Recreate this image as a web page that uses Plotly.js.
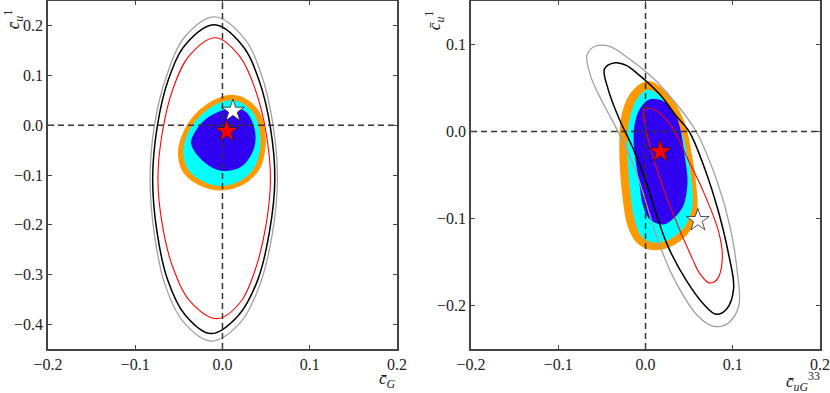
<!DOCTYPE html>
<html>
<head>
<meta charset="utf-8">
<script src="https://cdn.plot.ly/plotly-3.0.1.min.js"></script>
<style>
  html, body { margin: 0; padding: 0; background: #fff; }
  #chart { width: 830px; height: 393px; }
</style>
</head>
<body>
<div id="chart"></div>
<script>
// left panel (c_G vs c_u^1)
const leftGray = [[0.063,-0.108],[0.058,0.000],[0.045,0.100],[0.025,0.175],[-0.009,0.218],[-0.043,0.178],[-0.064,0.100],[-0.078,0.000],[-0.083,-0.108],[-0.078,-0.220],[-0.066,-0.320],[-0.045,-0.395],[-0.013,-0.434],[0.020,-0.398],[0.042,-0.325],[0.057,-0.220]];
const leftBlack = [[0.060,-0.108],[0.055,-0.005],[0.042,0.090],[0.023,0.160],[-0.009,0.202],[-0.042,0.163],[-0.062,0.092],[-0.075,-0.005],[-0.080,-0.108],[-0.075,-0.215],[-0.063,-0.310],[-0.043,-0.381],[-0.013,-0.419],[0.018,-0.383],[0.040,-0.313],[0.054,-0.213]];
const leftRed = [[0.055,-0.107],[0.050,-0.015],[0.038,0.070],[0.020,0.138],[-0.008,0.176],[-0.038,0.140],[-0.057,0.072],[-0.069,-0.015],[-0.074,-0.107],[-0.069,-0.200],[-0.057,-0.285],[-0.037,-0.354],[-0.006,-0.389],[0.021,-0.355],[0.038,-0.288],[0.050,-0.200]];
const leftOrange = [[-0.051,-0.055],[-0.045,-0.095],[-0.025,-0.122],[0.000,-0.131],[0.025,-0.118],[0.042,-0.090],[0.049,-0.050],[0.049,-0.015],[0.043,0.025],[0.030,0.050],[0.014,0.061],[-0.005,0.055],[-0.027,0.030],[-0.044,-0.010]];
const leftCyan = [[-0.045,-0.052],[-0.039,-0.090],[-0.021,-0.114],[0.000,-0.122],[0.021,-0.111],[0.036,-0.086],[0.043,-0.050],[0.043,-0.015],[0.037,0.020],[0.026,0.041],[0.013,0.050],[-0.004,0.045],[-0.023,0.023],[-0.038,-0.010]];
const leftBlue = [[-0.020,0.011],[-0.032,-0.015],[-0.036,-0.035],[-0.028,-0.062],[-0.012,-0.085],[0.002,-0.092],[0.020,-0.085],[0.030,-0.068],[0.037,-0.040],[0.037,-0.009],[0.028,0.025],[0.016,0.035],[0.000,0.030]];
const leftRedStar = [0.005, -0.012];
const leftWhiteStar = [0.012, 0.029];

// right panel (c_uG^33 vs c_u^1)
const rightGray = [[-0.067,0.088],[-0.058,0.098],[-0.042,0.098],[-0.018,0.083],[0.008,0.062],[0.031,0.037],[0.058,0.000],[0.083,-0.060],[0.097,-0.110],[0.105,-0.160],[0.107,-0.200],[0.095,-0.220],[0.079,-0.224],[0.060,-0.212],[0.033,-0.170],[0.016,-0.130],[0.003,-0.090],[-0.012,-0.043],[-0.033,0.003],[-0.049,0.033],[-0.063,0.064]];
const rightBlack = [[-0.047,0.072],[-0.035,0.079],[-0.022,0.076],[-0.011,0.068],[0.016,0.043],[0.035,0.018],[0.050,0.000],[0.068,-0.043],[0.083,-0.090],[0.095,-0.140],[0.101,-0.180],[0.093,-0.204],[0.081,-0.210],[0.068,-0.200],[0.046,-0.170],[0.024,-0.128],[-0.001,-0.053],[-0.014,-0.020],[-0.030,0.014],[-0.043,0.049]];
const rightRed = [[-0.002,0.026],[0.012,0.024],[0.031,0.004],[0.050,-0.035],[0.065,-0.066],[0.084,-0.116],[0.088,-0.147],[0.082,-0.170],[0.073,-0.174],[0.062,-0.163],[0.054,-0.147],[0.031,-0.093],[0.012,-0.040],[-0.001,0.010]];
const rightOrange = [[0.004,0.058],[0.027,0.042],[0.045,0.010],[0.052,-0.020],[0.058,-0.060],[0.059,-0.093],[0.048,-0.118],[0.025,-0.134],[0.005,-0.136],[-0.010,-0.128],[-0.020,-0.110],[-0.027,-0.070],[-0.030,-0.010],[-0.026,0.025],[-0.014,0.048]];
const rightCyan = [[0.004,0.048],[0.023,0.034],[0.039,0.005],[0.047,-0.022],[0.053,-0.060],[0.053,-0.090],[0.043,-0.112],[0.023,-0.126],[0.006,-0.127],[-0.005,-0.120],[-0.013,-0.100],[-0.018,-0.065],[-0.021,-0.010],[-0.017,0.020],[-0.008,0.040]];
const rightBlue = [[0.005,0.037],[0.020,0.035],[0.035,0.018],[0.046,-0.036],[0.048,-0.060],[0.043,-0.086],[0.032,-0.100],[0.020,-0.107],[0.005,-0.101],[-0.003,-0.085],[-0.007,-0.060],[-0.013,-0.020],[-0.013,0.005],[-0.007,0.025]];
const rightRedStar = [0.017, -0.023];
const rightWhiteStar = [0.060, -0.102];

const xTicks = [-0.2, -0.1, 0.0, 0.1, 0.2];
const leftYTicks = [0.2, 0.1, 0.0, -0.1, -0.2, -0.3, -0.4];
const rightYTicks = [0.1, 0.0, -0.1, -0.2];
const leftYRange = [-0.45, 0.25];
const rightYRange = [-0.25, 0.15];
const xRange = [-0.2, 0.2];

const ORANGE = '#ff9900', CYAN = '#00ffff', BLUE = '#3000f0';
const SERIF = 'Liberation Serif';
const TICK_FONT = { family: SERIF, size: 16, color: '#222' };
const TITLE_FONT = { family: SERIF, size: 17, color: '#222' };

// closed loop through the read points
function loop(pts) {
  const c = pts.concat([pts[0]]);
  return { x: c.map(p => p[0]), y: c.map(p => p[1]) };
}

function area(pts, color, ax) {
  const l = loop(pts);
  return { x: l.x, y: l.y, xaxis: ax[0], yaxis: ax[1], type: 'scatter', mode: 'lines',
    fill: 'toself', fillcolor: color, line: { color: color, width: 0, shape: 'spline', smoothing: 1.0 },
    hoverinfo: 'skip', showlegend: false };
}

function ring(pts, color, w, ax) {
  const l = loop(pts);
  return { x: l.x, y: l.y, xaxis: ax[0], yaxis: ax[1], type: 'scatter', mode: 'lines',
    line: { color: color, width: w, shape: 'spline', smoothing: 1.0 }, hoverinfo: 'skip', showlegend: false };
}

function zeroLines(ax, yr) {
  const st = { color: '#333', width: 1.5, dash: '6px,4px' };
  return [
    { x: [0, 0], y: yr, xaxis: ax[0], yaxis: ax[1], type: 'scatter', mode: 'lines', line: st, showlegend: false, hoverinfo: 'skip' },
    { x: xRange, y: [0, 0], xaxis: ax[0], yaxis: ax[1], type: 'scatter', mode: 'lines', line: st, showlegend: false, hoverinfo: 'skip' }
  ];
}

function star(p, color, ax) {
  return { x: [p[0]], y: [p[1]], xaxis: ax[0], yaxis: ax[1], type: 'scatter', mode: 'markers',
    marker: { symbol: 'star', size: 17, color: color, line: { color: '#222', width: 0.8 } },
    showlegend: false, hoverinfo: 'skip' };
}

const L = ['x', 'y'], R = ['x2', 'y2'];

const data = [
  area(leftOrange, ORANGE, L), area(leftCyan, CYAN, L), area(leftBlue, BLUE, L),
  ring(leftGray, '#a0a0a0', 1.3, L), ring(leftBlack, '#000', 1.5, L), ring(leftRed, '#ff0000', 1.1, L),
  ...zeroLines(L, leftYRange),
  star(leftWhiteStar, '#fff', L), star(leftRedStar, '#ff0000', L),

  area(rightOrange, ORANGE, R), area(rightCyan, CYAN, R), area(rightBlue, BLUE, R),
  ring(rightGray, '#a0a0a0', 1.3, R), ring(rightBlack, '#000', 1.5, R), ring(rightRed, '#ff0000', 1.1, R),
  ...zeroLines(R, rightYRange),
  star(rightWhiteStar, '#fff', R), star(rightRedStar, '#ff0000', R)
];

function axis(extra) {
  return Object.assign({
    showgrid: false, zeroline: false, showline: true, mirror: 'ticks',
    linecolor: '#444', linewidth: 1.5, ticks: 'inside', ticklen: 4, tickcolor: '#444',
    tickfont: Object.assign({}, TICK_FONT), tickformat: '.1f'
  }, extra);
}

function label(text, x, y, angle) {
  return { text, x, y, xref: 'paper', yref: 'paper', showarrow: false, textangle: angle,
    font: TITLE_FONT, xanchor: 'center', yanchor: 'middle' };
}

const layout = {
  width: 830, height: 393,
  margin: { l: 48, r: 10, t: 1, b: 44 },
  font: TICK_FONT,
  paper_bgcolor: '#fff', plot_bgcolor: '#fff',
  showlegend: false,
  xaxis:  axis({ domain: [0, 0.452], range: xRange, tickvals: xTicks, anchor: 'y' }),
  yaxis:  axis({ range: leftYRange, tickvals: leftYTicks, anchor: 'x' }),
  xaxis2: axis({ domain: [0.548, 1], range: xRange, tickvals: xTicks, anchor: 'y2' }),
  yaxis2: axis({ range: rightYRange, tickvals: rightYTicks, anchor: 'x2' }),
  annotations: [
    label('<i>c̄</i><sub><i>G</i></sub>', 0.440, -0.090, 0),
    label('<i>c̄</i><sub><i>uG</i></sub><sup>33</sup>', 0.978, -0.092, 0),
    label('<i>c̄</i><sub><i>u</i></sub><sup>1</sup>', -0.045, 0.948, -90),
    label('<i>c̄</i><sub><i>u</i></sub><sup>1</sup>', 0.500, 0.945, -90)
  ]
};

Plotly.newPlot('chart', data, layout, { displayModeBar: false });
</script>
</body>
</html>
